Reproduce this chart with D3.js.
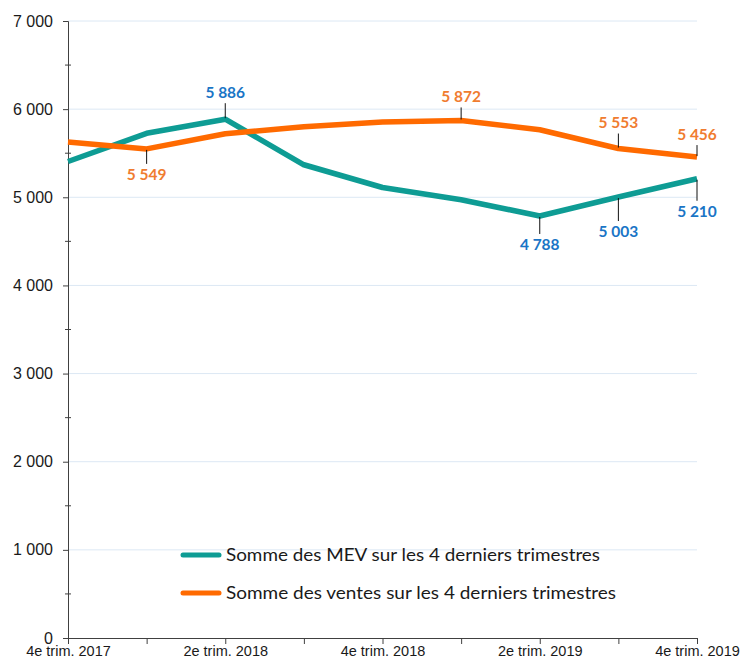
<!DOCTYPE html>
<html><head><meta charset="utf-8">
<script src="https://cdn.jsdelivr.net/npm/d3@7"></script>
<style>body{margin:0;background:#fff}svg{display:block}
.ax text{font-family:"Liberation Sans",Arial,sans-serif;fill:#1a1a1a}
</style>
</head><body>
<svg id="c" width="742" height="662"></svg>
<script>
const categories = ["4e trim. 2017","1er trim. 2018","2e trim. 2018","3e trim. 2018","4e trim. 2018","1er trim. 2019","2e trim. 2019","3e trim. 2019","4e trim. 2019"];
const tickLabels = ["4e trim. 2017","2e trim. 2018","4e trim. 2018","2e trim. 2019","4e trim. 2019"];
const mevValues = [5406, 5726, 5886, 5369, 5111, 4972, 4788, 5003, 5210];
const ventesValues = [5626, 5549, 5720, 5800, 5855, 5872, 5766, 5553, 5456];
const seriesNames = ["Somme des MEV sur les 4 derniers trimestres","Somme des ventes sur les 4 derniers trimestres"];
const yTicks = [0,1000,2000,3000,4000,5000,6000,7000];

// label layout (index, vertical text offset)
const mevLabels = [{i:2,dy:-27},{i:6,dy:29},{i:7,dy:35},{i:8,dy:33}];
const ventesLabels = [{i:1,dy:26},{i:5,dy:-24},{i:7,dy:-26},{i:8,dy:-23}];

const svg = d3.select("#c");
const x = d3.scalePoint().domain(categories).range([68,697]);
const y = d3.scaleLinear().domain([0,7000]).range([638,21]);
const fmt = d3.formatLocale({decimal:",",thousands:" ",grouping:[3],currency:["","€"]}).format(",");

// gridlines
svg.append("g").selectAll("line").data(yTicks.filter(d=>d>0)).join("line")
  .attr("x1",68).attr("x2",697).attr("y1",d=>y(d)).attr("y2",d=>y(d))
  .attr("stroke","#dce8f4").attr("stroke-width",1);

// y axis
const yAxis = d3.axisLeft(y).tickValues(yTicks).tickSize(5).tickPadding(10).tickFormat(fmt);
const gy = svg.append("g").attr("class","ax").attr("transform","translate(68,0)").call(yAxis);
gy.attr("font-family",null);
gy.select(".domain").attr("stroke","#404040");
gy.selectAll(".tick line").attr("stroke","#404040");
gy.selectAll("text").attr("font-size",16);
// minor ticks
svg.append("g").selectAll("line").data(d3.range(500,7000,1000)).join("line")
  .attr("x1",65).attr("x2",71).attr("y1",d=>y(d)).attr("y2",d=>y(d)).attr("stroke","#404040");

// x axis
const xAxis = d3.axisBottom(x).tickSize(6).tickPadding(2).tickFormat(d=>tickLabels.includes(d)?d:"");
const gx = svg.append("g").attr("class","ax").attr("transform","translate(0,638)").call(xAxis);
gx.attr("font-family",null);
gx.select(".domain").attr("stroke","#404040");
gx.selectAll(".tick line").attr("stroke","#404040");
gx.selectAll("text").attr("font-size",14.5);

const colors = ["#0e9c94","#ff6a00"];
const labelColors = ["#1a75c6","#f07c30"];
const line = d3.line().x((d,i)=>x(categories[i])).y(d=>y(d));

[mevValues, ventesValues].forEach((vals,k)=>{
  svg.append("path").datum(vals).attr("d",line).attr("fill","none")
    .attr("stroke",colors[k]).attr("stroke-width",5.5).attr("stroke-linejoin","round");
});

function drawLabels(vals, labels, color){
  labels.forEach(l=>{
    const px = x(categories[l.i]), py = y(vals[l.i]);
    const ty = py + l.dy;
    const dir = Math.sign(l.dy);
    svg.append("line").attr("x1",px).attr("x2",px)
      .attr("y1",py + dir*1).attr("y2",ty - dir*11)
      .attr("stroke","#111").attr("stroke-width",1);
    svg.append("text").attr("x",px).attr("y",ty).attr("dy","0.35em")
      .attr("text-anchor","middle").attr("font-family","Lato, sans-serif")
      .attr("font-weight","bold").attr("font-size",15.5).attr("fill",color)
      .text(fmt(vals[l.i]));
  });
}
drawLabels(mevValues, mevLabels, labelColors[0]);
drawLabels(ventesValues, ventesLabels, labelColors[1]);

// legend
const legY = [555,593];
const legLen = [374,390];
seriesNames.forEach((n,k)=>{
  svg.append("line").attr("x1",183).attr("x2",219).attr("y1",legY[k]).attr("y2",legY[k])
    .attr("stroke",colors[k]).attr("stroke-width",5).attr("stroke-linecap","round");
  svg.append("text").attr("x",226).attr("y",legY[k]).attr("dy","0.35em")
    .attr("font-family","Lato, sans-serif").attr("font-size",18).attr("fill","#1a1a1a")
    .attr("textLength",legLen[k]).attr("lengthAdjust","spacingAndGlyphs").text(n);
});
</script>
</body></html>
